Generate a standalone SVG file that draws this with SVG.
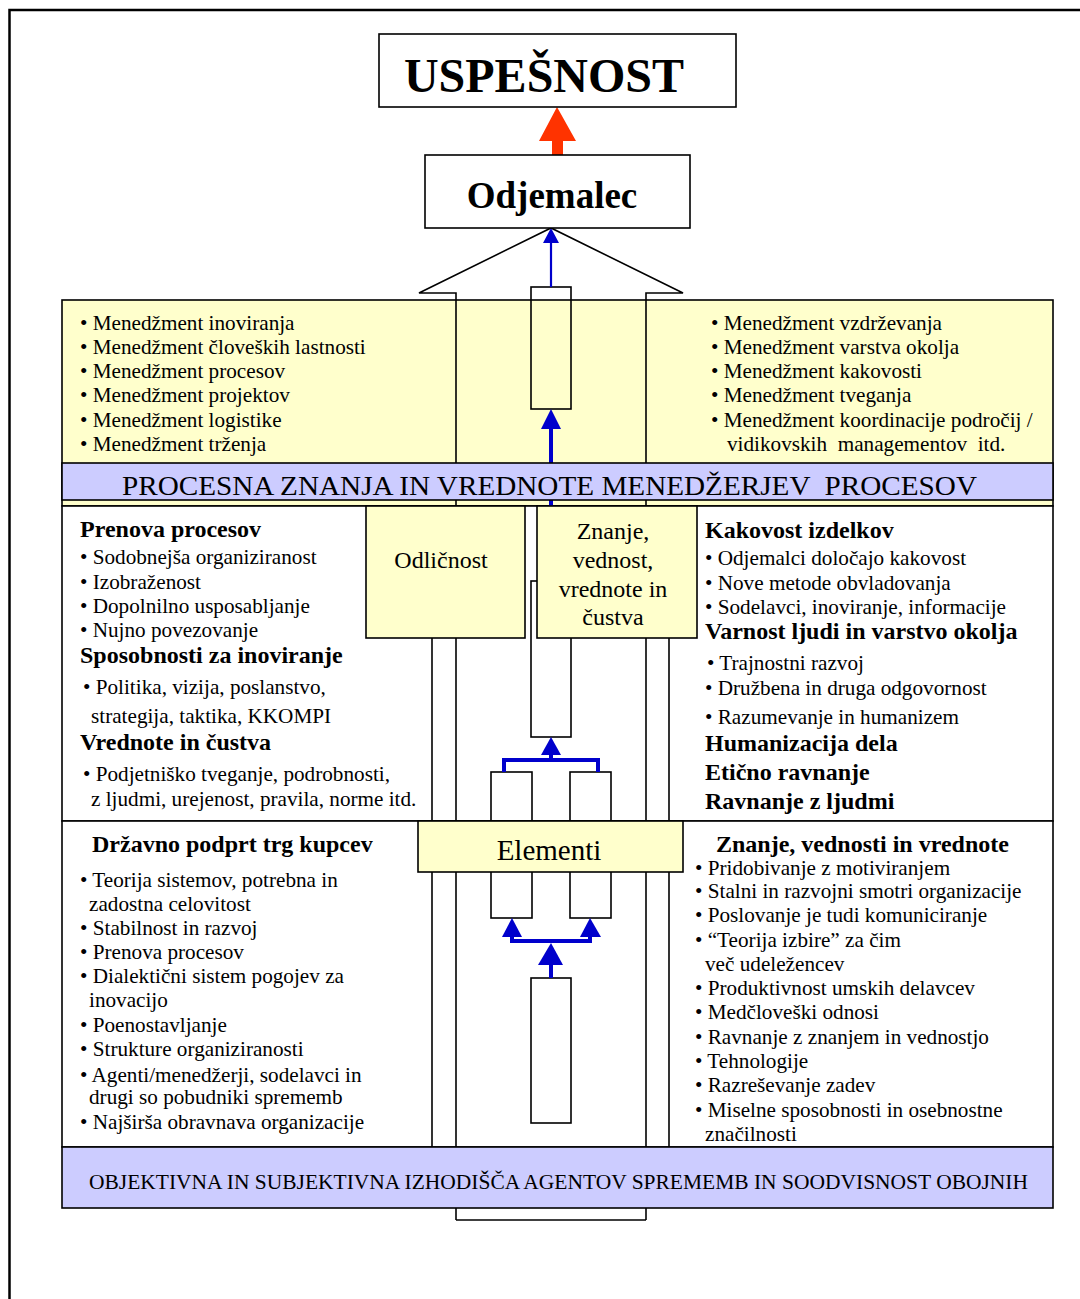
<svg xmlns="http://www.w3.org/2000/svg" width="1080" height="1299" viewBox="0 0 1080 1299">
<style>
.t{font-family:"Liberation Serif","Times New Roman",serif;font-size:21.2px;fill:#000;white-space:pre}
.b{font-family:"Liberation Serif","Times New Roman",serif;font-size:24px;font-weight:bold;fill:#000;white-space:pre}
.c{text-anchor:middle}
.box{stroke:#000;stroke-width:1.6}
.yel{fill:#FFFFCC}
.pur{fill:#CCCCFF}
.wht{fill:#FFFFFF}
.ln{stroke:#000;stroke-width:1.6;fill:none}
.blu{stroke:#0000CC;fill:none}
.bh{fill:#0000CC}
</style>
<rect x="0" y="0" width="1080" height="1299" fill="#fff"/>
<g id="frame">
<path d="M9.5,1299 V10 H1080" fill="none" stroke="#000" stroke-width="2.5"/>
</g>
<g id="panel-top"><rect class="box yel" x="62" y="300" width="991" height="206"/></g>
<g id="panel-middle"><rect class="box wht" x="62" y="506" width="991" height="315"/></g>
<g id="panel-bottom"><rect class="box wht" x="62" y="821" width="991" height="326"/></g>
<g id="connectors">
<polyline class="ln" points="456,470 456,293 419,293 551,228 683,293 646,293 646,470"/>
<line class="ln" x1="456" y1="495" x2="456" y2="1220"/>
<line class="ln" x1="646" y1="495" x2="646" y2="1220"/>
<line class="ln" x1="456" y1="1220" x2="646" y2="1220"/>
<line class="ln" x1="432" y1="506" x2="432" y2="1147"/>
<line class="ln" x1="669" y1="506" x2="669" y2="1147"/>
<rect class="ln" x="531" y="287" width="40" height="122"/>
<rect class="box wht" x="531" y="581" width="40" height="156"/>
<rect class="ln" x="491" y="772" width="41" height="146"/>
<rect class="ln" x="570" y="772" width="41" height="146"/>
<rect class="ln" x="531" y="978" width="40" height="145"/>
<line class="blu" x1="551" y1="242" x2="551" y2="287" stroke-width="2.2"/>
<polygon class="bh" points="551,228 543,243 559,243"/>
<line class="blu" x1="551" y1="428" x2="551" y2="507" stroke-width="4"/>
<polygon class="bh" points="551,409 541,429 561,429"/>
<polygon class="bh" points="551,737 541,755 561,755"/>
<polyline class="blu" points="551,754 551,760" stroke-width="4"/>
<polyline class="blu" points="504,772 504,760 598,760 598,772" stroke-width="4"/>
<polygon class="bh" points="512,918 502,937 522,937"/>
<polygon class="bh" points="590,918 580,937 601,937"/>
<polyline class="blu" points="512,936 512,941 590,941 590,936" stroke-width="4"/>
<polygon class="bh" points="551,943 538,965 563,965"/>
<line class="blu" x1="551" y1="964" x2="551" y2="978" stroke-width="4"/>
<polygon fill="#FF3300" points="557,107 539,141 552,141 552,155 563,155 563,141 576,141"/>
</g>
<g id="uspesnost">
<rect class="box wht" x="379" y="34" width="357" height="73"/>
<text class="b c" x="544" y="92" style="font-size:48px">USPEŠNOST</text>
</g>
<g id="odjemalec">
<rect class="box wht" x="425" y="155" width="265" height="73"/>
<text class="b c" x="552" y="208" style="font-size:37px">Odjemalec</text>
</g>
<g id="band-procesna">
<rect class="box pur" x="62" y="463" width="991" height="37"/>
<text class="t" x="122" y="495" style="font-size:28px" textLength="855" lengthAdjust="spacingAndGlyphs">PROCESNA ZNANJA IN VREDNOTE MENEDŽERJEV  PROCESOV</text>
</g>
<g id="odlicnost">
<rect class="box yel" x="366" y="506" width="159" height="132"/>
<text class="t c" x="441" y="568" style="font-size:24px">Odličnost</text>
</g>
<g id="znanje">
<rect class="box yel" x="537" y="506" width="160" height="132"/>
<text class="t c" x="613" y="539" style="font-size:24px">Znanje,</text>
<text class="t c" x="613" y="568" style="font-size:24px">vednost,</text>
<text class="t c" x="613" y="597" style="font-size:24px">vrednote in</text>
<text class="t c" x="613" y="625" style="font-size:24px">čustva</text>
</g>
<g id="elementi">
<rect class="box yel" x="418" y="821" width="265" height="51"/>
<text class="t c" x="549" y="860" style="font-size:29px">Elementi</text>
</g>
<g id="band-objektivna">
<rect class="box pur" x="62" y="1147" width="991" height="61"/>
<text class="t" x="89" y="1189" textLength="939" lengthAdjust="spacingAndGlyphs">OBJEKTIVNA IN SUBJEKTIVNA IZHODIŠČA AGENTOV SPREMEMB IN SOODVISNOST OBOJNIH</text>
</g>
<g id="list-top-left">
<text class="t" x="80" y="330">• Menedžment inoviranja</text>
<text class="t" x="80" y="354">• Menedžment človeških lastnosti</text>
<text class="t" x="80" y="378">• Menedžment procesov</text>
<text class="t" x="80" y="402">• Menedžment projektov</text>
<text class="t" x="80" y="427">• Menedžment logistike</text>
<text class="t" x="80" y="451">• Menedžment trženja</text>
</g>
<g id="list-top-right">
<text class="t" x="711" y="330">• Menedžment vzdrževanja</text>
<text class="t" x="711" y="354">• Menedžment varstva okolja</text>
<text class="t" x="711" y="378">• Menedžment kakovosti</text>
<text class="t" x="711" y="402">• Menedžment tveganja</text>
<text class="t" x="711" y="427">• Menedžment koordinacije področij /</text>
<text class="t" x="727" y="451">vidikovskih  managementov  itd.</text>
</g>
<g id="list-middle-left">
<text class="b" x="80" y="537">Prenova procesov</text>
<text class="t" x="80" y="564">• Sodobnejša organiziranost</text>
<text class="t" x="80" y="589">• Izobraženost</text>
<text class="t" x="80" y="613">• Dopolnilno usposabljanje</text>
<text class="t" x="80" y="637">• Nujno povezovanje</text>
<text class="b" x="80" y="663">Sposobnosti za inoviranje</text>
<text class="t" x="83" y="694">• Politika, vizija, poslanstvo,</text>
<text class="t" x="91" y="723">strategija, taktika, KKOMPI</text>
<text class="b" x="80" y="750">Vrednote in čustva</text>
<text class="t" x="83" y="781">• Podjetniško tveganje, podrobnosti,</text>
<text class="t" x="91" y="806">z ljudmi, urejenost, pravila, norme itd.</text>
</g>
<g id="list-middle-right">
<text class="b" x="705" y="538">Kakovost izdelkov</text>
<text class="t" x="705" y="565">• Odjemalci določajo kakovost</text>
<text class="t" x="705" y="590">• Nove metode obvladovanja</text>
<text class="t" x="705" y="614">• Sodelavci, inoviranje, informacije</text>
<text class="b" x="705" y="639">Varnost ljudi in varstvo okolja</text>
<text class="t" x="707" y="670">• Trajnostni razvoj</text>
<text class="t" x="705" y="695">• Družbena in druga odgovornost</text>
<text class="t" x="705" y="724">• Razumevanje in humanizem</text>
<text class="b" x="705" y="751">Humanizacija dela</text>
<text class="b" x="705" y="780">Etično ravnanje</text>
<text class="b" x="705" y="809">Ravnanje z ljudmi</text>
</g>
<g id="list-bottom-left">
<text class="b" x="92" y="852">Državno podprt trg kupcev</text>
<text class="t" x="80" y="887">• Teorija sistemov, potrebna in</text>
<text class="t" x="89" y="911">zadostna celovitost</text>
<text class="t" x="80" y="935">• Stabilnost in razvoj</text>
<text class="t" x="80" y="959">• Prenova procesov</text>
<text class="t" x="80" y="983">• Dialektični sistem pogojev za</text>
<text class="t" x="89" y="1007">inovacijo</text>
<text class="t" x="80" y="1032">• Poenostavljanje</text>
<text class="t" x="80" y="1056">• Strukture organiziranosti</text>
<text class="t" x="80" y="1082">• Agenti/menedžerji, sodelavci in</text>
<text class="t" x="89" y="1104">drugi so pobudniki sprememb</text>
<text class="t" x="80" y="1129">• Najširša obravnava organizacije</text>
</g>
<g id="list-bottom-right">
<text class="b" x="716" y="852">Znanje, vednosti in vrednote</text>
<text class="t" x="695" y="875">• Pridobivanje z motiviranjem</text>
<text class="t" x="695" y="898">• Stalni in razvojni smotri organizacije</text>
<text class="t" x="695" y="922">• Poslovanje je tudi komuniciranje</text>
<text class="t" x="695" y="947">• “Teorija izbire” za čim</text>
<text class="t" x="705" y="971">več udeležencev</text>
<text class="t" x="695" y="995">• Produktivnost umskih delavcev</text>
<text class="t" x="695" y="1019">• Medčloveški odnosi</text>
<text class="t" x="695" y="1044">• Ravnanje z znanjem in vednostjo</text>
<text class="t" x="695" y="1068">• Tehnologije</text>
<text class="t" x="695" y="1092">• Razreševanje zadev</text>
<text class="t" x="695" y="1117">• Miselne sposobnosti in osebnostne</text>
<text class="t" x="705" y="1141">značilnosti</text>
</g>
</svg>
